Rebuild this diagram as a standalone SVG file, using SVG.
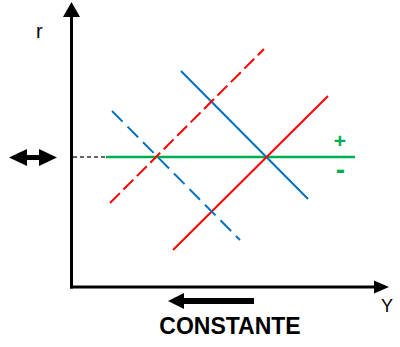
<svg xmlns="http://www.w3.org/2000/svg" width="400" height="347" viewBox="0 0 400 347">
<style>
.ax{stroke:#000;stroke-width:3;fill:none}
.blue{stroke:#0070C0;stroke-width:2;fill:none}
.red{stroke:#FF0000;stroke-width:2;fill:none}
.dashR{stroke-dasharray:14 5}
.dashB{stroke-dasharray:15 7}
.lbl{font-family:"Liberation Sans",Arial,sans-serif;fill:#000}
.grn{font-family:"Liberation Sans",Arial,sans-serif;font-weight:bold;fill:#00B050}
</style>
<rect width="400" height="347" fill="#fff"/>
<g id="axes">
<line class="ax" x1="71.5" y1="14" x2="71.5" y2="288.5"/>
<polygon points="71.5,2 63,17 80,17" fill="#000"/>
<line class="ax" x1="70" y1="287" x2="376" y2="287"/>
<polygon points="389,287 374,280.5 374,293.5" fill="#000"/>
<text class="lbl" x="36" y="38" font-size="20">r</text>
<text class="lbl" x="381" y="312" font-size="18">Y</text>
</g>
<g id="connectors">
<line x1="73" y1="157" x2="106" y2="157" stroke="#333" stroke-width="1.5" stroke-dasharray="4 3"/>
<line x1="106" y1="157" x2="355" y2="157" stroke="#00B050" stroke-width="2.7"/>
<line class="blue" x1="181" y1="71" x2="308" y2="199"/>
<line class="red" x1="173" y1="250" x2="328" y2="96"/>
<line class="red dashR" x1="110" y1="203" x2="264" y2="49"/>
<line class="blue dashB" x1="112" y1="111" x2="240" y2="240"/>
</g>
<g id="signs">
<text class="grn" x="340" y="148" font-size="21" text-anchor="middle">+</text>
<text class="grn" x="340.5" y="178.5" font-size="28" text-anchor="middle">-</text>
</g>
<g id="double-arrow">
<rect x="24" y="155" width="18" height="5" fill="#000"/>
<polygon points="9,157.5 27,149 27,166" fill="#000"/>
<polygon points="57,157.5 39,149 39,166" fill="#000"/>
</g>
<g id="constante">
<rect x="180" y="298" width="74" height="6" fill="#000"/>
<polygon points="168,301 184,293 184,309" fill="#000"/>
<text class="lbl" x="230" y="334" font-size="23" font-weight="bold" text-anchor="middle">CONSTANTE</text>
</g>
</svg>
